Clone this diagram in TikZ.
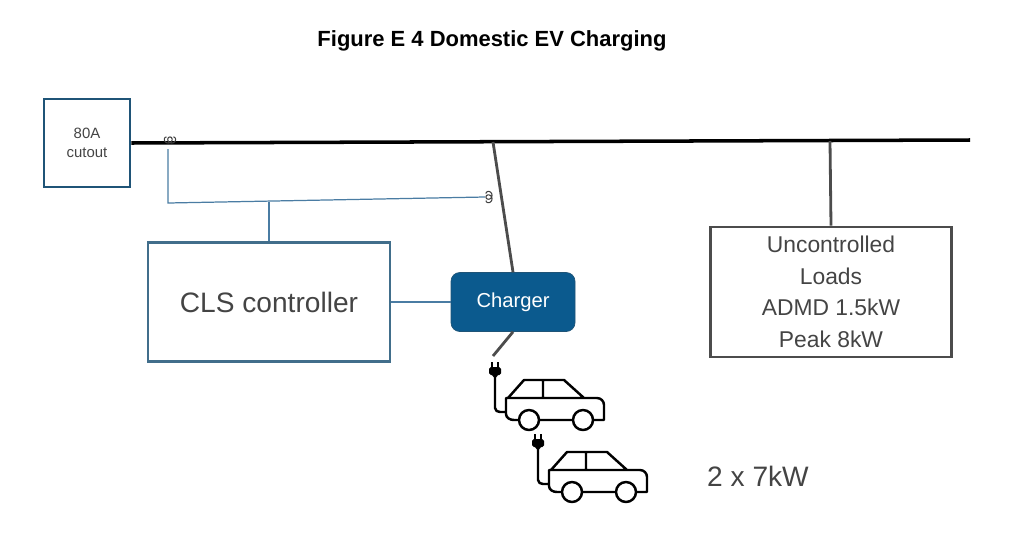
\documentclass[tikz,border=0pt]{standalone}
\usepackage{fontspec}
\setmainfont{Liberation Sans}
\definecolor{boxblue}{HTML}{1F5477}
\definecolor{linkblue}{HTML}{4A7CA3}
\definecolor{chargeblue}{HTML}{0B5A8E}
\definecolor{txtgray}{HTML}{444444}
\tikzset{
  bus/.style={line width=2pt,black},
  feed/.style={line width=1.6pt,black!70},
  sense/.style={line width=0.7pt,linkblue},
  coil/.pic={\draw[black!75,line width=0.6pt] plot[domain=0:4*pi,samples=60,smooth]
     ({0.55*\x-3*sin(\x r)-3.5},{-3*cos(\x r)-3});},
  evcar/.pic={
    \draw[line width=1.4pt,line cap=round,line join=round]
      (29,28) -- (29,58) to[out=-90,in=180] (34,62) -- (40,62)
      (40,48) -- (40,64) to[out=-90,in=180] (48,70) -- (52,70)
      (42,48) -- (58,30) -- (98,30) -- (118,48)
      (40,48) -- (131,48) to[out=0,in=90] (138,55) -- (138,70) -- (128,70)
      (74,70) -- (106,70) (77,30) -- (77,48)
      (63,70) circle[radius=10] (117,70) circle[radius=10];
    \fill[rounded corners=1pt] (23,17) rectangle (35,25);
    \fill (26,25) -- (32,25) -- (29,29) -- cycle;
    \draw[line width=1.2pt] (26,17) -- (26,12) (32,17) -- (32,12);
  }
}
\begin{document}
\begin{tikzpicture}[x=0.02cm,y=-0.02cm]
\useasboundingbox (0,0) rectangle (1035,548);
\node[font=\bfseries\fontsize{12.5}{15}\selectfont] (title) at (492,41) {Figure E 4 Domestic EV Charging};
\node[draw=boxblue,line width=1.6pt,minimum width=86*0.02cm,minimum height=88*0.02cm,
  align=center,text=txtgray,font=\fontsize{8.5}{11}\selectfont] (cutout) at (87,143) {80A\\cutout};
\node[draw=boxblue!85,line width=1.4pt,minimum width=242*0.02cm,minimum height=119*0.02cm,
  text=txtgray,font=\fontsize{16}{19}\selectfont] (cls) at (269,302) {CLS controller};
\node[fill=chargeblue,draw=boxblue,rounded corners=5pt,minimum width=124*0.02cm,minimum height=59*0.02cm,
  text=white,font=\fontsize{11.5}{14}\selectfont] (charger) at (513,302) {Charger};
\node[draw=black!70,line width=1.6pt,minimum width=241*0.02cm,minimum height=130*0.02cm,
  align=center,text=txtgray,font=\fontsize{13}{18}\selectfont] (loads) at (831,292)
  {Uncontrolled\\Loads\\ADMD 1.5kW\\Peak 8kW};
\node[text=txtgray,font=\fontsize{16}{19}\selectfont] (rating) at (758,476) {2 x 7kW};
% busbar and feeders
\coordinate (busend) at (970,140);
\coordinate (tapev) at (493,142);
\coordinate (tapeload) at (830,141);
\draw[bus] (cutout.east) -- (busend);
\draw[feed] (tapev) -- (charger.north);
\draw[feed] (tapeload) -- (loads.north);
\draw[feed] (charger.south) -- (493,356);
% current sensing
\pic at (170,143) {coil};
\pic[rotate=90] at (492,197) {coil};
\coordinate (ctmain) at (168,149);
\coordinate (ctev) at (485,197);
\coordinate (senseturn) at (168,203);
\coordinate (sensetap) at (269,202);
\draw[sense] (ctmain) -- (senseturn) -- (ctev);
\draw[sense] (sensetap) -- (cls.north);
\draw[sense] (cls.east) -- (charger.west);
% cars
\pic at (466,350) {evcar};
\pic at (509,422) {evcar};
\end{tikzpicture}
\end{document}
